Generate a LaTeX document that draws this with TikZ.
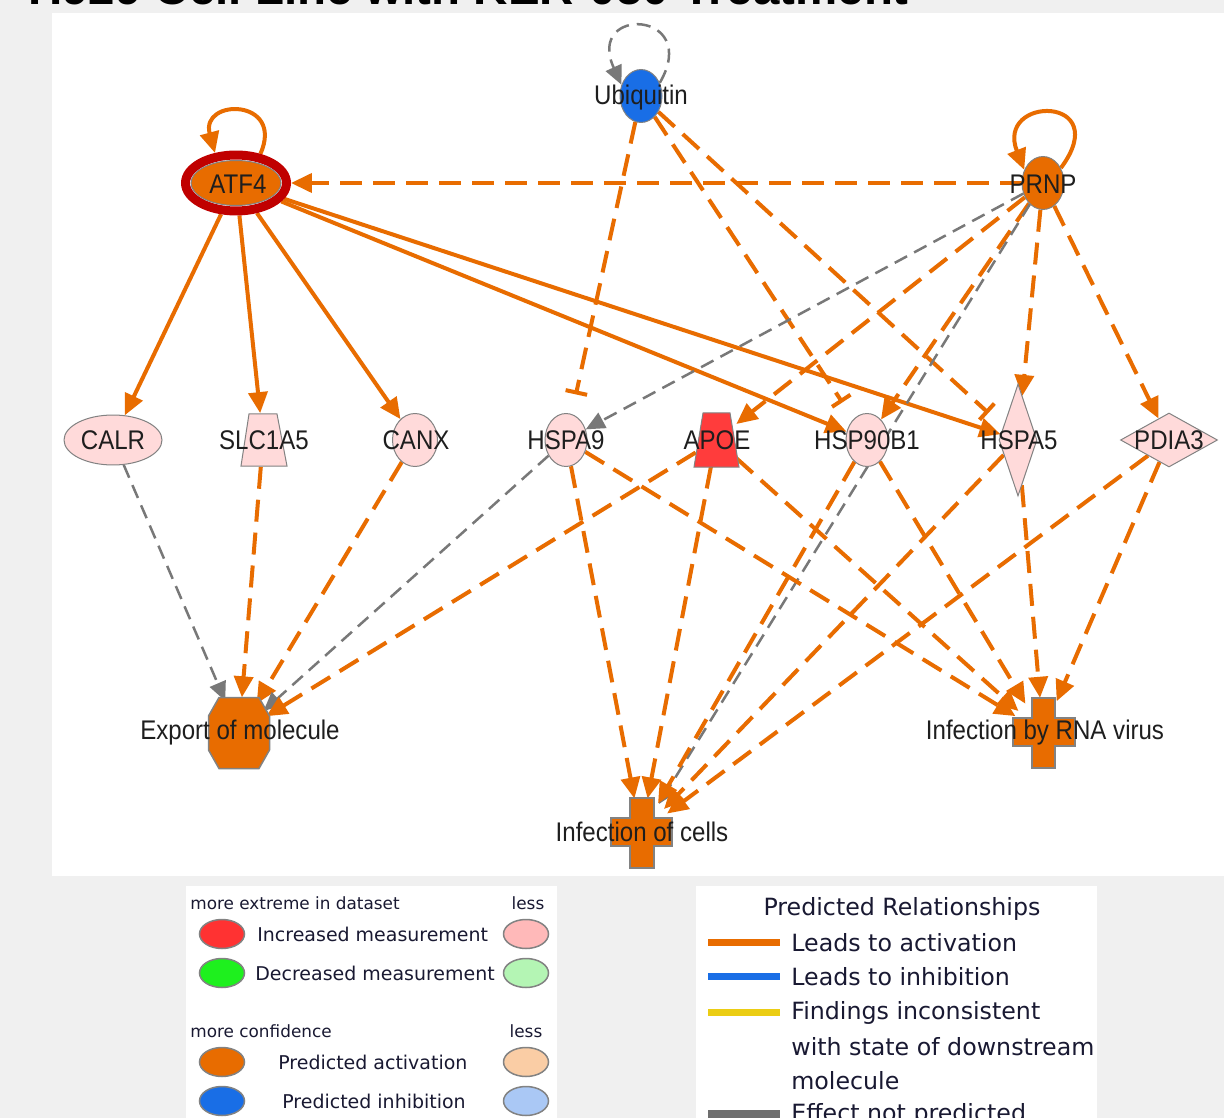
\documentclass[tikz,border=0pt]{standalone}
\usepackage{fontspec}
\usepackage{graphicx}
\usetikzlibrary{arrows.meta,shapes.geometric}
\newfontfamily\lblfont{Liberation Sans}
\newfontfamily\legfont{DejaVu Sans}
\definecolor{ipaorange}{RGB}{232,108,0}
\definecolor{ipagray}{RGB}{120,120,120}
\definecolor{nodegray}{RGB}{130,130,130}
\definecolor{pinkfill}{RGB}{255,218,218}
\definecolor{apoered}{RGB}{255,60,60}
\definecolor{ipablue}{RGB}{25,110,230}
\definecolor{ringred}{RGB}{192,0,0}
\definecolor{bggray}{RGB}{240,240,240}
\definecolor{labeltext}{RGB}{30,30,30}
\definecolor{legtext}{RGB}{25,25,50}
\definecolor{legred}{RGB}{255,50,50}
\definecolor{legpink}{RGB}{255,185,185}
\definecolor{leggreen}{RGB}{30,240,30}
\definecolor{leglgreen}{RGB}{180,245,180}
\definecolor{legpeach}{RGB}{250,205,165}
\definecolor{leglblue}{RGB}{170,200,245}
\definecolor{legyellow}{RGB}{235,205,20}
\definecolor{leggray}{RGB}{110,110,110}
\newcommand\lbltext[1]{\scalebox{1}[1.12]{#1}}
\pgfdeclarelayer{bg}
\pgfdeclarelayer{edges}
\pgfsetlayers{bg,edges,main}
\begin{document}
\begin{tikzpicture}[x=0.02cm,y=-0.02cm,
  oline/.style={draw=ipaorange, line width=0.08cm},
  oarr/.style={oline, -{Triangle[length=0.42cm,width=0.38cm]}},
  odash/.style={oarr, dash pattern=on 0.44cm off 0.22cm},
  gdash/.style={draw=ipagray, line width=0.05cm, dash pattern=on 0.28cm off 0.16cm, -{Triangle[length=0.38cm,width=0.34cm]}},
  obar/.style={oline, dash pattern=on 0.44cm off 0.22cm, -{Bar[width=0.44cm]}, shorten >=0.4cm},
  mol/.style={draw=nodegray, line width=0.02cm, inner sep=0},
  circ/.style={mol, ellipse, minimum width=0.84cm, minimum height=1.06cm},
  hidden/.style={ellipse, inner sep=0},
  hiddenbox/.style={rectangle, inner sep=0, minimum width=0.8cm, minimum height=1.06cm},
  lbl/.style={font=\lblfont\fontsize{13.7}{16}\selectfont, text=labeltext, inner sep=0},
  crossst/.style={fill=ipaorange, draw=nodegray, line width=0.03cm},
  legell/.style={ellipse, draw=nodegray, line width=0.03cm, minimum width=0.9cm, minimum height=0.58cm, inner sep=0},
  legs/.style={font=\legfont\fontsize{9.6}{11}\selectfont, text=legtext, inner sep=0},
  legm/.style={font=\legfont\fontsize{10.8}{13}\selectfont, text=legtext, inner sep=0},
  legl/.style={font=\legfont\fontsize{13.5}{16}\selectfont, text=legtext, inner sep=0},
  legline/.style={line width=0.14cm}
]
\useasboundingbox (0,0) rectangle (1224,1118);
\begin{pgfonlayer}{bg}
\fill[bggray] (0,0) rectangle (1224,1118);
\fill[white] (52,13) rectangle (1224,876);
\fill[white] (186,886) rectangle (557,1118);
\fill[white] (696,886) rectangle (1097,1118);
\end{pgfonlayer}

% title (cut off at top)
\node[anchor=base west, inner sep=0, font=\lblfont\bfseries\fontsize{27}{30}\selectfont] (title) at (28,5) {H929 Cell Line with KER-050 Treatment};

% nodes
\node[circ, fill=ipablue] (ubq) at (641,96) {};
\node[ellipse, draw=ringred, line width=0.18cm, minimum width=2.02cm, minimum height=1.12cm, inner sep=0] (atf4) at (236,183) {};
\node[ellipse, fill=ipaorange, draw=nodegray, line width=0.02cm, minimum width=1.8cm, minimum height=0.9cm, inner sep=0] (atf4in) at (236,183) {};
\node[circ, fill=ipaorange] (prnp) at (1043,183) {};
\node[mol, ellipse, fill=pinkfill, minimum width=1.96cm, minimum height=1.0cm] (calr) at (113,440) {};
\filldraw[mol, fill=pinkfill] (249,414) -- (277,414) -- (287,466) -- (241,466) -- cycle;
\node[hiddenbox] (slc) at (263,440) {};
\node[circ, fill=pinkfill, minimum width=0.9cm] (canx) at (415,440) {};
\node[circ, fill=pinkfill] (hspa9) at (566,440) {};
\filldraw[mol, fill=apoered] (703,413) -- (730,413) -- (739,467) -- (694,467) -- cycle;
\node[hiddenbox] (apoe) at (716,440) {};
\node[circ, fill=pinkfill] (hsp90) at (867,440) {};
\node[mol, diamond, fill=pinkfill, minimum width=0.76cm, minimum height=2.24cm] (hspa5) at (1018,440) {};
\node[mol, diamond, fill=pinkfill, minimum width=1.94cm, minimum height=1.08cm] (pdia3) at (1169,440) {};

% function shapes
\filldraw[crossst] (219,697.5) -- (259,697.5) -- (269.5,716) -- (269.5,750) -- (259,768.5) -- (219,768.5) -- (208.5,750) -- (208.5,716) -- cycle;
\node[hidden, minimum width=1.22cm, minimum height=1.42cm] (exp) at (239,733) {};
\filldraw[crossst] (1032,698) -- (1055,698) -- (1055,718) -- (1075,718) -- (1075,746) -- (1055,746) -- (1055,768) -- (1032,768) -- (1032,746) -- (1013,746) -- (1013,718) -- (1032,718) -- cycle;
\node[hidden, minimum width=1.24cm, minimum height=1.4cm] (rna) at (1043,733) {};
\filldraw[crossst] (630,798) -- (654,798) -- (654,818) -- (672,818) -- (672,846) -- (654,846) -- (654,868) -- (630,868) -- (630,846) -- (611,846) -- (611,818) -- (630,818) -- cycle;
\node[hidden, minimum width=1.24cm, minimum height=1.4cm] (infc) at (641,833) {};

% labels
\node[lbl] (ubqL) at (641,98) {\lbltext{Ubiquitin}};
\node[lbl] (atf4L) at (238,184) {\lbltext{ATF4}};
\node[lbl] (prnpL) at (1043,184) {\lbltext{PRNP}};
\node[lbl] (calrL) at (113,440) {\lbltext{CALR}};
\node[lbl] (slcL) at (264,440) {\lbltext{SLC1A5}};
\node[lbl] (canxL) at (416,440) {\lbltext{CANX}};
\node[lbl] (hspa9L) at (566,440) {\lbltext{HSPA9}};
\node[lbl] (apoeL) at (717,440) {\lbltext{APOE}};
\node[lbl] (hsp90L) at (867,440) {\lbltext{HSP90B1}};
\node[lbl] (hspa5L) at (1019,440) {\lbltext{HSPA5}};
\node[lbl] (pdia3L) at (1169,440) {\lbltext{PDIA3}};
\node[lbl] (expL) at (240,733) {\lbltext{Export of molecule}};
\node[lbl] (rnaL) at (1045,733) {\lbltext{Infection by RNA virus}};
\node[lbl] (infcL) at (642,832) {\lbltext{Infection of cells}};

% edges
\begin{pgfonlayer}{edges}
\draw[gdash] (ubq.35) .. controls (702,10) and (585,5) .. (ubq.150);
\draw[oarr] (atf4.50) .. controls (285,98) and (200,98) .. (atf4.125);
\draw[oarr] (prnp.40) .. controls (1115,95) and (995,95) .. (prnp.145);
\draw[oarr] (atf4) -- (calr);
\draw[oarr] (atf4) -- (slc);
\draw[oarr] (atf4) -- (canx);
\draw[oarr] (atf4) -- (hsp90);
\draw[oarr] (atf4) -- (hspa5);
\draw[odash] (prnp) -- (atf4);
\draw[obar] (ubq) -- (hspa9);
\draw[obar] (ubq) -- (hsp90);
\draw[obar] (ubq) -- (hspa5);
\draw[gdash] (prnp) -- (hspa9);
\draw[odash] (prnp) -- (apoe);
\draw[odash] (prnp) -- (hsp90);
\draw[odash] (prnp) -- (hspa5);
\draw[odash] (prnp) -- (pdia3);
\draw[gdash] (prnp) -- (infc);
\draw[gdash] (calr) -- (exp);
\draw[odash] (slc) -- (exp);
\draw[odash] (canx) -- (exp);
\draw[gdash] (hspa9) -- (exp);
\draw[odash] (apoe) -- (exp);
\draw[odash] (hspa9) -- (infc);
\draw[odash] (hspa9) -- (rna);
\draw[odash] (apoe) -- (infc);
\draw[odash] (apoe) -- (rna);
\draw[odash] (hsp90) -- (infc);
\draw[odash] (hsp90) -- (rna);
\draw[odash] (hspa5) -- (infc);
\draw[odash] (hspa5) -- (rna);
\draw[odash] (pdia3) -- (infc);
\draw[odash] (pdia3) -- (rna);
\end{pgfonlayer}

% legend 1
\node[legs, anchor=west] (l1a) at (190,903) {more extreme in dataset};
\node[legs] (l1b) at (528,903) {less};
\node[legell, fill=legred] (e1) at (222,934) {};
\node[legm, anchor=west] (t1) at (257,934) {Increased measurement};
\node[legell, fill=legpink] (e2) at (526,934) {};
\node[legell, fill=leggreen] (e3) at (222,973) {};
\node[legm, anchor=west] (t2) at (255,973) {Decreased measurement};
\node[legell, fill=leglgreen] (e4) at (526,973) {};
\node[legs, anchor=west] (l1c) at (190,1031) {more confidence};
\node[legs] (l1d) at (526,1031) {less};
\node[legell, fill=ipaorange] (e5) at (222,1062) {};
\node[legm, anchor=west] (t3) at (278,1062) {Predicted activation};
\node[legell, fill=legpeach] (e6) at (526,1062) {};
\node[legell, fill=ipablue] (e7) at (222,1101) {};
\node[legm, anchor=west] (t4) at (282,1101) {Predicted inhibition};
\node[legell, fill=leglblue] (e8) at (526,1101) {};

% legend 2
\begin{scope}
\clip (696,886) rectangle (1097,1118);
\node[legl] (r0) at (902,909) {Predicted Relationships};
\coordinate (la1) at (708,942); \coordinate (lb1) at (780,942);
\draw[legline, ipaorange] (la1) -- (lb1);
\node[legl, anchor=west] (r1) at (791,943) {Leads to activation};
\coordinate (la2) at (708,976); \coordinate (lb2) at (780,976);
\draw[legline, ipablue] (la2) -- (lb2);
\node[legl, anchor=west] (r2) at (791,977) {Leads to inhibition};
\coordinate (la3) at (708,1012); \coordinate (lb3) at (780,1012);
\draw[legline, legyellow] (la3) -- (lb3);
\node[legl, anchor=west] (r3) at (791,1013) {Findings inconsistent};
\node[legl, anchor=west] (r4) at (791,1047) {with state of downstream};
\node[legl, anchor=west] (r5) at (791,1081) {molecule};
\coordinate (la4) at (708,1115); \coordinate (lb4) at (780,1115);
\draw[line width=0.2cm, leggray] (la4) -- (lb4);
\node[legl, anchor=base west] (r6) at (791,1121) {Effect not predicted};
\end{scope}
\end{tikzpicture}
\end{document}
